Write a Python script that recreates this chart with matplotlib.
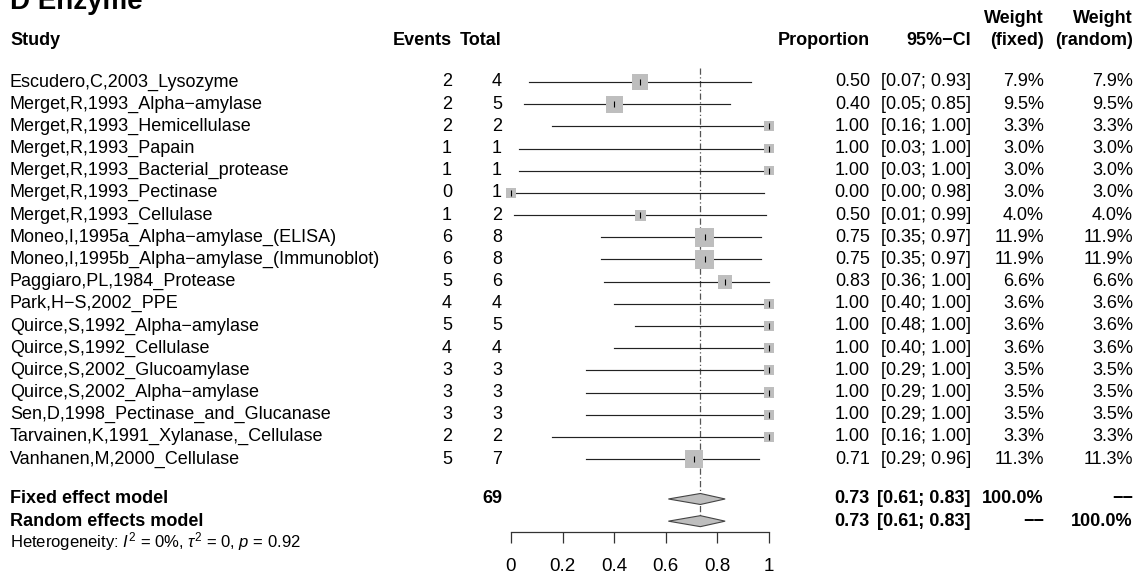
import matplotlib
matplotlib.use("Agg")
import matplotlib.pyplot as plt
from matplotlib.patches import Polygon
from matplotlib.transforms import Affine2D, blended_transform_factory

plt.rcParams['font.family'] = ['Liberation Sans', 'DejaVu Sans']
plt.rcParams['mathtext.fontset'] = 'custom'
plt.rcParams['mathtext.rm'] = 'Liberation Sans'
plt.rcParams['mathtext.it'] = 'Liberation Sans:italic'
plt.rcParams['mathtext.bf'] = 'Liberation Sans:bold'

# ---------------- data ----------------
studies = [
    "Escudero,C,2003_Lysozyme",
    "Merget,R,1993_Alpha\u2212amylase",
    "Merget,R,1993_Hemicellulase",
    "Merget,R,1993_Papain",
    "Merget,R,1993_Bacterial_protease",
    "Merget,R,1993_Pectinase",
    "Merget,R,1993_Cellulase",
    "Moneo,I,1995a_Alpha\u2212amylase_(ELISA)",
    "Moneo,I,1995b_Alpha\u2212amylase_(Immunoblot)",
    "Paggiaro,PL,1984_Protease",
    "Park,H\u2212S,2002_PPE",
    "Quirce,S,1992_Alpha\u2212amylase",
    "Quirce,S,1992_Cellulase",
    "Quirce,S,2002_Glucoamylase",
    "Quirce,S,2002_Alpha\u2212amylase",
    "Sen,D,1998_Pectinase_and_Glucanase",
    "Tarvainen,K,1991_Xylanase,_Cellulase",
    "Vanhanen,M,2000_Cellulase",
]
events = [2, 2, 2, 1, 1, 0, 1, 6, 6, 5, 4, 5, 4, 3, 3, 3, 2, 5]
totals = [4, 5, 2, 1, 1, 1, 2, 8, 8, 6, 4, 5, 4, 3, 3, 3, 2, 7]
proportion = [0.50, 0.40, 1.00, 1.00, 1.00, 0.00, 0.50, 0.75, 0.75, 0.83,
              1.00, 1.00, 1.00, 1.00, 1.00, 1.00, 1.00, 0.71]
ci_lower = [0.07, 0.05, 0.16, 0.03, 0.03, 0.00, 0.01, 0.35, 0.35, 0.36,
            0.40, 0.48, 0.40, 0.29, 0.29, 0.29, 0.16, 0.29]
ci_upper = [0.93, 0.85, 1.00, 1.00, 1.00, 0.98, 0.99, 0.97, 0.97, 1.00,
            1.00, 1.00, 1.00, 1.00, 1.00, 1.00, 1.00, 0.96]
weight_fixed = [7.9, 9.5, 3.3, 3.0, 3.0, 3.0, 4.0, 11.9, 11.9, 6.6,
                3.6, 3.6, 3.6, 3.5, 3.5, 3.5, 3.3, 11.3]
weight_random = [7.9, 9.5, 3.3, 3.0, 3.0, 3.0, 4.0, 11.9, 11.9, 6.6,
                 3.6, 3.6, 3.6, 3.5, 3.5, 3.5, 3.3, 11.3]
total_n = 69
pooled_est = 0.734
pooled_lower = 0.61
pooled_upper = 0.83
heterogeneity = r"Heterogeneity: $\mathit{I}^{2}$ = 0%, $\tau^{2}$ = 0, $\mathit{p}$ = 0.92"
x_ticks = [0, 0.2, 0.4, 0.6, 0.8, 1]
x_ticklabels = ["0", "0.2", "0.4", "0.6", "0.8", "1"]

# ---------------- layout ----------------
W, H = 1138, 575
fig = plt.figure(figsize=(W / 100, H / 100), dpi=100)
row0_px, row_step = 82, 22.18
x0_px, x1_px = 511, 769
ax = fig.add_axes([x0_px / W, 0, (x1_px - x0_px) / W, 1])
ax.set_xlim(0, 1)
ax.set_ylim((H - row0_px) / row_step, -row0_px / row_step)
ax.patch.set_visible(False)
for s in ['top', 'left', 'right']:
    ax.spines[s].set_visible(False)
ax.set_yticks([])

n = len(studies)
rows = list(range(n))
y_fixed = 18.8
y_random = 19.8
y_het = 20.72
y_axis = 20.29
y_head = -1.89
y_head2 = -2.88

ax.spines['bottom'].set_position(('data', y_axis))
ax.spines['bottom'].set_bounds(0, 1)
ax.spines['bottom'].set_linewidth(0.9)
ax.spines['bottom'].set_color('#333333')
ax.set_xticks(x_ticks)
ax.set_xticklabels(x_ticklabels)
ax.tick_params(axis='x', direction='out', length=8, width=0.9, color='#333333',
               labelsize=13.5, pad=11)

fs = 13
xt = Affine2D().scale(1 / W, 1) + fig.transFigure
tr = blended_transform_factory(xt, ax.transData)

# reference line
ax.plot([pooled_est, pooled_est], [-0.62, y_random + 0.1], color='#555555',
        lw=0.9, linestyle=(0, (5, 2, 1, 2)), clip_on=False, zorder=1)

# CI lines, squares, ticks
for r, p, lo, hi, w in zip(rows, proportion, ci_lower, ci_upper, weight_fixed):
    ax.plot([lo, hi], [r, r], color='#222222', lw=0.85, clip_on=False, zorder=2)
    side_pt = 0.72 * 5.5 * (w ** 0.5)
    ax.scatter([p], [r], s=side_pt ** 2, marker='s', color='#bebebe',
               edgecolors='none', clip_on=False, zorder=3)
    ax.scatter([p], [r], s=22, marker='|', color='black', linewidths=0.8,
               clip_on=False, zorder=4)

# diamonds
h = 5.5 / row_step
for y in (y_fixed, y_random):
    ax.add_patch(Polygon([(pooled_lower, y), (pooled_est, y - h),
                          (pooled_upper, y), (pooled_est, y + h)],
                         closed=True, facecolor='#bebebe', edgecolor='#444444',
                         lw=0.8, clip_on=False, zorder=3))

# text columns (right edges in pixels)
col_study = 10
col_events = 452
col_total = 502
col_prop = 870
col_ci = 971
col_wf = 1044
col_wr = 1133

def txt(x, y, s, ha='right', bold=False, size=fs):
    ax.text(x, y, s, transform=tr, ha=ha, va='center', fontsize=size,
            fontweight='bold' if bold else 'normal', color='black')

# title (partly outside the top edge, as in the original)
fig.text(10 / W, 1 - 9 / H, "D Enzyme", ha='left', va='baseline',
         fontsize=20, fontweight='bold')

# headers
txt(col_study, y_head, "Study", ha='left', bold=True)
txt(col_events, y_head, "Events", bold=True)
txt(col_total, y_head, "Total", bold=True)
txt(col_prop, y_head, "Proportion", bold=True)
txt(col_ci, y_head, "95%\u2212CI", bold=True)
txt(col_wf, y_head2, "Weight", bold=True)
txt(col_wf, y_head, "(fixed)", bold=True)
txt(col_wr, y_head2, "Weight", bold=True)
txt(col_wr, y_head, "(random)", bold=True)

for r in rows:
    txt(col_study, r, studies[r], ha='left')
    txt(col_events, r, str(events[r]))
    txt(col_total, r, str(totals[r]))
    txt(col_prop, r, f"{proportion[r]:.2f}")
    txt(col_ci, r, f"[{ci_lower[r]:.2f}; {ci_upper[r]:.2f}]")
    txt(col_wf, r, f"{weight_fixed[r]:.1f}%")
    txt(col_wr, r, f"{weight_random[r]:.1f}%")

# pooled rows
txt(col_study, y_fixed, "Fixed effect model", ha='left', bold=True)
txt(col_total, y_fixed, str(total_n), bold=True)
txt(col_prop, y_fixed, f"{pooled_est:.2f}", bold=True)
txt(col_ci, y_fixed, f"[{pooled_lower:.2f}; {pooled_upper:.2f}]", bold=True)
txt(col_wf, y_fixed, "100.0%", bold=True)
txt(col_wr, y_fixed, "\u2212\u2212", bold=True)

txt(col_study, y_random, "Random effects model", ha='left', bold=True)
txt(col_prop, y_random, f"{pooled_est:.2f}", bold=True)
txt(col_ci, y_random, f"[{pooled_lower:.2f}; {pooled_upper:.2f}]", bold=True)
txt(col_wf, y_random, "\u2212\u2212", bold=True)
txt(col_wr, y_random, "100.0%", bold=True)

txt(col_study, y_het, heterogeneity, ha='left', size=12)

fig.savefig("out.png", dpi=100)
